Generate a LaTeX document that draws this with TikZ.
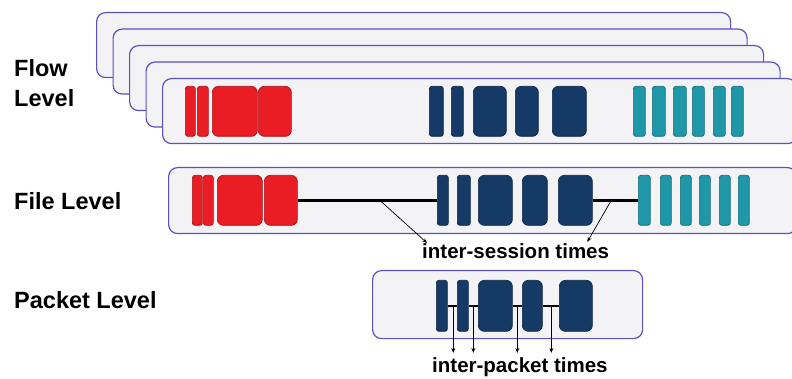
\documentclass[tikz,border=0pt]{standalone}
\usepackage{fontspec}
\setmainfont{Liberation Sans}
\usetikzlibrary{arrows.meta,calc}

\definecolor{framefill}{HTML}{F3F3F6}
\definecolor{frameline}{HTML}{5A50C2}
\definecolor{pktred}{HTML}{EA1C24}
\definecolor{pktredline}{HTML}{A8141B}
\definecolor{pktnavy}{HTML}{163A66}
\definecolor{pktnavyline}{HTML}{0E2542}
\definecolor{pktteal}{HTML}{2097A8}
\definecolor{pkttealline}{HTML}{146C78}

\tikzset{
  levelframe/.style={draw=frameline, fill=framefill, line width=1.2pt,
    rounded corners=9pt, anchor=north west, inner sep=0pt},
  redblk/.style={draw=pktredline, fill=pktred, line width=0.7pt},
  navyblk/.style={draw=pktnavyline, fill=pktnavy, line width=0.7pt},
  tealblk/.style={draw=pkttealline, fill=pktteal, line width=0.7pt},
  bar/.style={rounded corners=2.5pt},
  box/.style={rounded corners=6pt},
  levellabel/.style={font=\bfseries\fontsize{23.5}{28}\selectfont, anchor=base west, inner sep=0pt},
  timelabel/.style={font=\bfseries\fontsize{20.5}{24}\selectfont, anchor=base west, inner sep=0pt},
  gapline/.style={line width=2.4pt, black},
  pointer/.style={line width=0.7pt, black, -{Stealth[length=5pt, width=4pt]}}
}

% one packet / session block: name, style, left, right, top, bottom
\newcommand\blk[6]{%
  \node[#2, anchor=north west, inner sep=0pt,
        minimum width={(#4-#3)*1pt}, minimum height={(#6-#5)*1pt}] (#1) at (#3,#5) {};}

\begin{document}
\begin{tikzpicture}[x=1pt, y=-1pt]
\useasboundingbox (0,0) rectangle (792,379);

% ---------- flow level: a stack of frames ----------
\node[levelframe, minimum width=634pt, minimum height=65pt] (flowA) at (96,12) {};
\node[levelframe, minimum width=634pt, minimum height=65pt] (flowB) at (112.5,28.5) {};
\node[levelframe, minimum width=634pt, minimum height=65pt] (flowC) at (129,45) {};
\node[levelframe, minimum width=634pt, minimum height=65pt] (flowD) at (145.5,61.5) {};
\node[levelframe, minimum width=634pt, minimum height=65pt] (flowE) at (162,78) {};

\blk{ar1}{redblk,bar}{185}{195}{86}{136}
\blk{ar2}{redblk,bar}{197}{208}{86}{136}
\blk{ar3}{redblk,box}{212}{257}{86}{136}
\blk{ar4}{redblk,box}{258}{291}{86}{136}
\blk{an1}{navyblk,bar}{429}{443}{86}{136}
\blk{an2}{navyblk,bar}{451}{463}{86}{136}
\blk{an3}{navyblk,box}{473}{506}{86}{136}
\blk{an4}{navyblk,box}{515}{538}{86}{136}
\blk{an5}{navyblk,box}{552}{586}{86}{136}
\blk{at1}{tealblk,bar}{633}{645}{86}{136}
\blk{at2}{tealblk,bar}{652}{665}{86}{136}
\blk{at3}{tealblk,bar}{673}{686}{86}{136}
\blk{at4}{tealblk,bar}{692}{704}{86}{136}
\blk{at5}{tealblk,bar}{713}{725}{86}{136}
\blk{at6}{tealblk,bar}{731}{743}{86}{136}

% ---------- file level ----------
\node[levelframe, minimum width=628pt, minimum height=66pt] (fileframe) at (168,167) {};

\blk{br1}{redblk,bar}{192}{202}{175}{225}
\blk{br2}{redblk,bar}{203}{213}{175}{225}
\blk{br3}{redblk,box}{217}{262}{175}{225}
\blk{br4}{redblk,box}{264}{297}{175}{225}
\blk{bn1}{navyblk,bar}{437}{448}{175}{225}
\blk{bn2}{navyblk,bar}{457}{470}{175}{225}
\blk{bn3}{navyblk,box}{478}{512}{175}{225}
\blk{bn4}{navyblk,box}{522}{547}{175}{225}
\blk{bn5}{navyblk,box}{558}{592}{175}{225}
\blk{bt1}{tealblk,bar}{638}{650}{175}{225}
\blk{bt2}{tealblk,bar}{660}{671}{175}{225}
\blk{bt3}{tealblk,bar}{680}{691}{175}{225}
\blk{bt4}{tealblk,bar}{699}{710}{175}{225}
\blk{bt5}{tealblk,bar}{719}{730}{175}{225}
\blk{bt6}{tealblk,bar}{738}{749}{175}{225}

\draw[gapline] (br4.east) -- coordinate[pos=0.59] (sess1) (bn1.west);
\draw[gapline] (bn5.east) -- coordinate[pos=0.41] (sess2) (bt1.west);

% ---------- packet level ----------
\node[levelframe, minimum width=270pt, minimum height=68pt] (pktframe) at (372,270) {};

\blk{cn1}{navyblk,bar}{436}{447}{280}{331}
\blk{cn2}{navyblk,bar}{457}{468}{280}{331}
\blk{cn3}{navyblk,box}{478}{512}{280}{331}
\blk{cn4}{navyblk,box}{522}{542}{280}{331}
\blk{cn5}{navyblk,box}{559}{592}{280}{331}

\draw[gapline, line width=2pt] (cn1.east) -- coordinate[pos=0.6] (gap1) (cn2.west);
\draw[gapline, line width=2pt] (cn2.east) -- coordinate[pos=0.5] (gap2) (cn3.west);
\draw[gapline, line width=2pt] (cn3.east) -- coordinate[pos=0.5] (gap3) (cn4.west);
\draw[gapline, line width=2pt] (cn4.east) -- coordinate[pos=0.53] (gap4) (cn5.west);

% ---------- labels ----------
\node[levellabel] (flowword) at (14,77) {Flow};
\node[levellabel] (flowlevel) at (14,107) {Level};
\node[levellabel] (filelevel) at (14,210) {File Level};
\node[levellabel] (pktlevel) at (14,308) {Packet Level};

\node[timelabel] (sesstimes) at (422,259) {inter-session times};
\node[timelabel] (pkttimes) at (432,372) {inter-packet times};

% ---------- pointers ----------
\draw[pointer] (sess1) -- ($(sesstimes.north west)+(5,-1)$);
\draw[pointer] (sess2) -- ($(sesstimes.north east)+(-22,-2)$);
\draw[pointer] (gap1) -- ([yshift=4pt]gap1 |- pkttimes.north);
\draw[pointer] (gap2) -- ([yshift=4pt]gap2 |- pkttimes.north);
\draw[pointer] (gap3) -- ([yshift=4pt]gap3 |- pkttimes.north);
\draw[pointer] (gap4) -- ([yshift=4pt]gap4 |- pkttimes.north);
\end{tikzpicture}
\end{document}
